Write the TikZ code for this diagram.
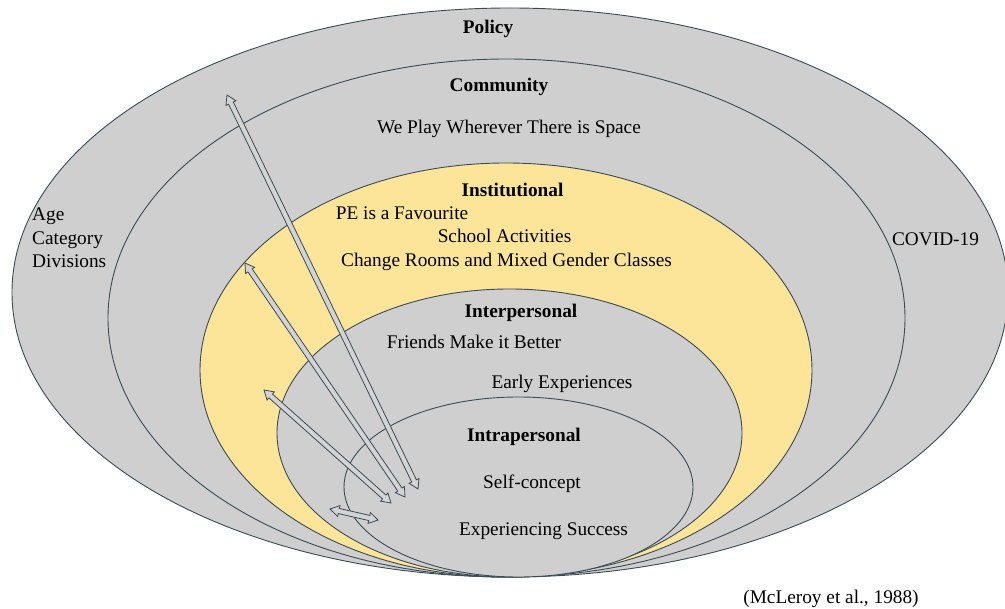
\documentclass[tikz,border=0pt]{standalone}
\usepackage{fontspec}
\setmainfont{Liberation Serif}
\usetikzlibrary{calc}

\definecolor{ringgray}{HTML}{CFCFCF}
\definecolor{ringyellow}{HTML}{FCE599}
\definecolor{ringline}{HTML}{3A4B54}
\definecolor{arrowfill}{HTML}{D4D4D4}

\tikzset{
  ring/.style={draw=ringline, line width=0.9pt},
  lbl/.style={inner sep=0pt, anchor=base, text=black,
              font=\fontsize{19.3}{23}\selectfont},
  lblw/.style={lbl, anchor=base west},
  head/.style={lbl, font=\fontsize{19.3}{23}\selectfont\bfseries},
  arrowbody/.style={draw=ringline, fill=arrowfill, line width=0.8pt, line join=miter},
}

% hollow two-headed block arrow between two named coordinates
\newcommand{\twowayarrow}[2]{%
  \coordinate (#1-hb) at ($(#1)!9pt!(#2)$);
  \coordinate (#2-hb) at ($(#2)!9pt!(#1)$);
  \draw[arrowbody] (#1)
    -- ($(#1-hb)!5.5pt!90:(#1)$) -- ($(#1-hb)!2.6pt!90:(#1)$)
    -- ($(#2-hb)!2.6pt!-90:(#2)$) -- ($(#2-hb)!5.5pt!-90:(#2)$)
    -- (#2)
    -- ($(#2-hb)!5.5pt!90:(#2)$) -- ($(#2-hb)!2.6pt!90:(#2)$)
    -- ($(#1-hb)!2.6pt!-90:(#1)$) -- ($(#1-hb)!5.5pt!-90:(#1)$)
    -- cycle;
}

\begin{document}
\begin{tikzpicture}[x=1pt,y=-1pt]
\useasboundingbox (0,0) rectangle (1005,609);
\fill[white] (0,0) rectangle (1005,609);

% nested levels, all meeting near the bottom
\draw[ring, fill=ringgray]   (510,292.5) ellipse [x radius=498pt, y radius=284.5pt];
\draw[ring, fill=ringgray]   (506.5,318) ellipse [x radius=398.5pt, y radius=259pt];
\draw[ring, fill=ringyellow] (506,370)   ellipse [x radius=306pt, y radius=207pt];
\draw[ring, fill=ringgray]   (509.5,433) ellipse [x radius=232.5pt, y radius=144pt];
\draw[ring, fill=ringgray]   (518.5,487) ellipse [x radius=174.5pt, y radius=90pt];

% level names and themes
\node[head] (policy)    at (488,34)  {Policy};
\node[head] (community) at (499,92)  {Community};
\node[lbl]  (space)     at (509,134) {We Play Wherever There is Space};
\node[head] (instit)    at (512.5,197) {Institutional};
\node[lbl]  (pe)        at (402,220) {PE is a Favourite};
\node[lbl]  (school)    at (504.5,243) {School Activities};
\node[lbl]  (rooms)     at (506.5,267) {Change Rooms and Mixed Gender Classes};
\node[head] (inter)     at (521,318) {Interpersonal};
\node[lbl]  (friends)   at (474,349) {Friends Make it Better};
\node[lbl]  (early)     at (562,389) {Early Experiences};
\node[head] (intra)     at (524,442) {Intrapersonal};
\node[lbl]  (self)      at (532,489) {Self-concept};
\node[lbl]  (success)   at (543.5,536) {Experiencing Success};
\node[lblw] (age)       at (32,221)  {Age};
\node[lblw] (category)  at (32,245)  {Category};
\node[lblw] (divisions) at (32,268)  {Divisions};
\node[lbl]  (covid)     at (935.5,246) {COVID-19};
\node[lbl]  (source)    at (831,603) {(McLeroy et al., 1988)};

% two-way links between levels
\coordinate (a1s) at (227,95);  \coordinate (a1e) at (418,489);
\coordinate (a2s) at (245,263); \coordinate (a2e) at (405,497);
\coordinate (a3s) at (264,390); \coordinate (a3e) at (391,503);
\coordinate (a4s) at (330,509); \coordinate (a4e) at (378,520);
\twowayarrow{a1s}{a1e}
\twowayarrow{a2s}{a2e}
\twowayarrow{a3s}{a3e}
\twowayarrow{a4s}{a4e}
\end{tikzpicture}
\end{document}
